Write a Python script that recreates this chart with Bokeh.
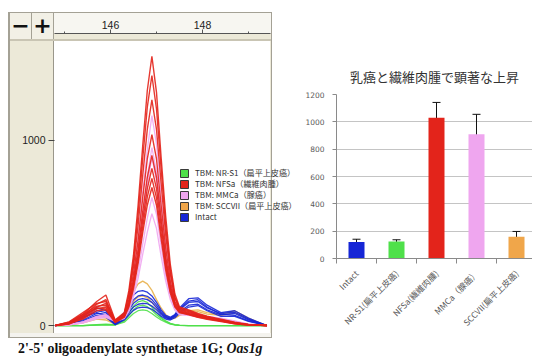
import math
from bokeh.plotting import figure
from bokeh.models import (Range1d, FixedTicker, Div, Whisker, ColumnDataSource, TeeHead)
from bokeh.layouts import row, column
from bokeh.embed import file_html
from bokeh.resources import INLINE

# ---------------- left chart data (chromatogram-like traces) ----------------
mz = [144.8, 145.1, 145.4, 145.7, 145.9, 146.1, 146.3, 146.4, 146.5, 146.6, 146.7, 146.8, 146.9,
      147.0, 147.1, 147.2, 147.3, 147.4, 147.5, 147.7, 147.9, 148.1, 148.4, 148.7, 149.0, 149.4]

nfsa_curves = [
    [0, 15, 60, 130, 165, 30, 70, 190, 380, 650, 970, 1270, 1454, 1260, 910, 590, 330, 170, 100, 85, 65, 50, 35, 18, 6, 0],
    [0, 10, 50, 115, 140, 25, 65, 170, 350, 600, 900, 1180, 1351, 1170, 850, 540, 300, 150, 95, 80, 60, 48, 30, 15, 5, 0],
    [0, 20, 70, 120, 130, 28, 60, 160, 320, 540, 810, 1060, 1220, 1060, 770, 490, 280, 150, 90, 75, 58, 45, 32, 16, 5, 0],
    [0, 12, 45, 100, 120, 20, 55, 140, 280, 460, 690, 900, 1032, 900, 650, 420, 240, 130, 85, 70, 55, 42, 28, 14, 4, 0],
    [0, 18, 60, 105, 110, 24, 52, 125, 250, 410, 615, 800, 919, 800, 580, 370, 215, 120, 80, 66, 52, 40, 26, 12, 4, 0],
    [0, 8, 40, 90, 100, 18, 48, 115, 230, 380, 570, 740, 849, 740, 540, 345, 200, 110, 75, 62, 50, 38, 25, 12, 4, 0],
    [0, 14, 55, 95, 90, 22, 50, 110, 215, 355, 530, 695, 795, 690, 500, 320, 185, 105, 72, 60, 46, 36, 24, 10, 3, 0],
    [0, 10, 35, 80, 85, 16, 45, 100, 200, 335, 500, 650, 746, 650, 470, 300, 175, 100, 70, 58, 45, 34, 22, 10, 3, 0],
]
mmca_curves = [
    [0, 5, 20, 50, 60, 30, 55, 125, 280, 470, 720, 950, 1135, 980, 700, 440, 250, 130, 80, 70, 60, 50, 40, 25, 8, 0],
    [0, 5, 18, 45, 55, 28, 50, 110, 240, 400, 610, 805, 962, 830, 595, 375, 215, 115, 72, 65, 55, 46, 36, 22, 7, 0],
    [0, 5, 18, 44, 52, 26, 48, 105, 228, 380, 578, 762, 908, 785, 562, 355, 205, 110, 70, 64, 54, 45, 35, 21, 7, 0],
    [0, 4, 15, 40, 48, 25, 42, 85, 175, 290, 440, 580, 692, 600, 430, 270, 160, 90, 62, 58, 50, 42, 34, 20, 6, 0],
    [0, 4, 14, 36, 44, 22, 38, 75, 155, 255, 385, 505, 605, 525, 375, 240, 140, 82, 58, 55, 48, 40, 32, 18, 5, 0],
]
sccvii_curves = [
    [0, 5, 20, 45, 40, 10, 60, 120, 185, 225, 240, 225, 190, 140, 95, 60, 40, 45, 60, 80, 85, 70, 60, 80, 40, 0],
    [0, 3, 15, 35, 30, 8, 45, 90, 130, 155, 160, 150, 125, 95, 65, 45, 35, 40, 55, 70, 75, 62, 55, 70, 35, 0],
]
nrs1_curves = [
    [0, 0, 0, 5, 8, 5, 30, 70, 105, 128, 135, 125, 100, 70, 45, 25, 12, 5, 2, 0, 0, 0, 0, 0, 0, 0],
    [0, 0, 0, 3, 5, 4, 25, 55, 85, 105, 110, 102, 82, 58, 38, 22, 10, 4, 1, 0, 0, 0, 0, 0, 0, 0],
    [0, 0, 0, 2, 4, 3, 18, 42, 65, 80, 85, 80, 65, 46, 30, 18, 8, 3, 1, 0, 0, 0, 0, 0, 0, 0],
]
intact_curves = [
    [0, 15, 50, 95, 80, 15, 70, 125, 165, 185, 189, 180, 160, 125, 85, 55, 45, 60, 95, 145, 150, 110, 70, 80, 40, 0],
    [0, 10, 40, 80, 70, 10, 55, 100, 140, 160, 165, 158, 140, 110, 75, 50, 40, 55, 85, 125, 130, 95, 65, 72, 35, 0],
    [0, 8, 30, 65, 60, 8, 45, 85, 120, 140, 145, 140, 125, 98, 68, 45, 35, 48, 75, 110, 115, 85, 58, 65, 30, 0],
    [0, 12, 45, 70, 55, 5, 35, 70, 100, 115, 120, 118, 105, 85, 60, 40, 38, 55, 90, 132, 140, 100, 60, 55, 25, 0],
    [0, 6, 25, 55, 45, 5, 30, 58, 82, 96, 100, 97, 88, 70, 50, 35, 30, 42, 68, 100, 108, 80, 50, 50, 22, 0],
]

left_y_ticks = [0, 1000]
left_x_major = [146, 148]
left_x_minor = [145, 147, 149]

legend_labels = ["TBM: NR-S1（扁平上皮癌）", "TBM: NFSa（繊維肉腫）", "TBM: MMCa（腺癌）",
                 "TBM: SCCVII（扁平上皮癌）", "Intact"]

# ---------------- right chart data (bar chart) ----------------
categories = ["Intact", "NR-S1(扁平上皮癌)", "NFSa(繊維肉腫)", "MMCa（腺癌）", "SCCVII(扁平上皮癌)"]
means = [120, 125, 1030, 910, 160]
errors = [21, 12, 112, 145, 38]
right_y_ticks = [0, 200, 400, 600, 800, 1000, 1200]

title_text = "乳癌と繊維肉腫で顕著な上昇"
caption_main = "2'-5' oligoadenylate synthetase 1G; "
caption_gene = "Oas1g"
button_texts = ["−", "+"]

# ---------------- styles ----------------
C_GREEN = "#4fe04a"
C_RED = "#e3241b"
C_PINK = "#efa6ef"
C_ORANGE = "#f0a64a"
C_BLUE = "#1626d6"
bar_colors = [C_BLUE, C_GREEN, C_RED, C_PINK, C_ORANGE]


def css_layers(rects):
    imgs, pos, sizes = [], [], []
    for (x, y, w, h, c) in reversed(rects):
        imgs.append(f"linear-gradient({c}, {c})")
        pos.append(f"{x}px {y}px")
        sizes.append(f"{w}px {h}px")
    return {"background-image": ", ".join(imgs),
            "background-position": ", ".join(pos),
            "background-size": ", ".join(sizes),
            "background-repeat": "no-repeat"}


panel_rects = [
    (8, 12, 264, 326, "#a4a195"),     # outer border
    (10, 13, 261, 324, "#ece9d8"),    # beige body
    (54, 13, 217, 20, "#f7f6f1"),     # ruler
    (10, 13, 21, 26, "#f2f0e6"),      # button -
    (32, 13, 21, 26, "#f2f0e6"),      # button +
    (31, 13, 1, 26, "#a4a195"),
    (53, 13, 1, 26, "#a4a195"),
    (10, 39, 261, 2, "#c9c5b4"),
    (53, 41, 1, 292, "#9a978b"),      # plot left edge
    (54, 41, 216, 292, "#ffffff"),    # plot area
    (10, 333, 261, 4, "#f4f3ee"),     # bottom strip
]

LW, LH = 300, 338
p = figure(width=LW, height=LH, output_backend="svg", toolbar_location=None, tools="",
           x_range=Range1d(144.783, 150.130), y_range=Range1d(-43, 1578),
           x_axis_location="above", min_border_left=54, min_border_right=0,
           min_border_top=33, min_border_bottom=5,
           background_fill_alpha=0, border_fill_color=None,
           outline_line_color=None, styles=css_layers(panel_rects))
p.margin = 0
p.grid.visible = False

for ys in nrs1_curves:
    p.line(mz, ys, line_color=C_GREEN, line_width=1.3, line_alpha=0.9)
for ys in sccvii_curves:
    p.line(mz, ys, line_color="#e8b04a", line_width=1.3, line_alpha=0.9)
for ys in intact_curves:
    p.line(mz, ys, line_color=C_BLUE, line_width=1.3, line_alpha=0.9)
for ys in mmca_curves:
    p.line(mz, ys, line_color=C_PINK, line_width=1.3, line_alpha=0.9)
for ys in nfsa_curves:
    p.line(mz, ys, line_color=C_RED, line_width=1.4, line_alpha=0.9)

nan = float("nan")
for lab, col in zip(legend_labels, [C_GREEN, C_RED, C_PINK, C_ORANGE, C_BLUE]):
    p.quad(left=[nan], right=[nan], top=[nan], bottom=[nan], fill_color=col,
           line_color="#3a3a3a", legend_label=lab)

lg = p.legend[0]
lg.location = (125, 111)
lg.background_fill_alpha = 0
lg.border_line_color = None
lg.padding = 0
lg.margin = 0
lg.spacing = 0
lg.glyph_width = 10
lg.glyph_height = 10
lg.label_height = 10
lg.label_standoff = 6
lg.label_text_font = "Noto Sans CJK JP"
lg.label_text_font_size = "8.1px"
lg.label_text_color = "#333333"

xa = p.xaxis[0]
xa.ticker = FixedTicker(ticks=left_x_major, minor_ticks=left_x_minor)
xa.bounds = (144.783, 149.478)
xa.axis_line_color = "#555555"
xa.major_tick_line_color = "#555555"
xa.minor_tick_line_color = "#555555"
xa.major_tick_out = 4
xa.major_tick_in = 0
xa.minor_tick_out = 2
xa.minor_tick_in = 0
xa.major_label_text_font = "Liberation Sans"
xa.major_label_text_font_size = "10.5px"
xa.major_label_text_color = "#222222"
xa.major_label_standoff = 1

ya = p.yaxis[0]
ya.ticker = FixedTicker(ticks=left_y_ticks)
ya.axis_line_color = None
ya.major_tick_line_color = "#444444"
ya.major_tick_out = 6
ya.major_tick_in = 0
ya.minor_tick_line_color = None
ya.major_label_text_font = "Liberation Sans"
ya.major_label_text_font_size = "10.5px"
ya.major_label_text_color = "#222222"
ya.major_label_standoff = 3

btn_style = ("position:absolute;top:-325px;width:21px;height:26px;line-height:26px;"
             "text-align:center;font-family:'DejaVu Sans';font-weight:bold;font-size:22px;color:#111;")
caption_html = (
    '<div style="position:relative;height:0;">'
    f'<span style="{btn_style}left:10px;">{button_texts[0]}</span>'
    f'<span style="{btn_style}left:32px;">{button_texts[1]}</span>'
    '</div>'
    f'<div style="padding:2px 0 0 18px;line-height:18px;font-family:\'Liberation Serif\';'
    f'font-size:13.8px;font-weight:bold;color:#111;white-space:nowrap;">'
    f'{caption_main}<i>{caption_gene}</i></div>'
)
caption = Div(text=caption_html, width=LW, height=20, margin=0,
              styles={"overflow": "visible"})

# ---------------- right chart ----------------
RW, RH = 232, 358
pos = [i + 0.5 for i in range(len(categories))]
src = ColumnDataSource(dict(x=pos, top=means, color=bar_colors,
                            upper=[m + e for m, e in zip(means, errors)],
                            lower=[m - e for m, e in zip(means, errors)]))

p2 = figure(width=RW, height=RH, output_backend="svg", toolbar_location=None, tools="",
            x_range=Range1d(0, 4.9), y_range=Range1d(0, 1200),
            min_border_left=36, min_border_right=0, min_border_top=94, min_border_bottom=100,
            background_fill_color="white", border_fill_color="white",
            outline_line_color=None, title=title_text)
p2.margin = 0
p2.title.text_font = "Noto Sans CJK JP"
p2.title.text_font_size = "13px"
p2.title.text_font_style = "normal"
p2.title.text_color = "#333333"
p2.title.align = "center"
p2.title.offset = -10
p2.title.standoff = 18

p2.vbar(x="x", top="top", width=0.4, fill_color="color", line_color=None, source=src)
p2.add_layout(Whisker(base="x", upper="upper", lower="lower", source=src,
                      line_color="#111111", line_width=1,
                      upper_head=TeeHead(size=8, line_color="#111111", line_width=1),
                      lower_head=TeeHead(size=8, line_color="#111111", line_width=1)))

p2.xgrid.visible = False
p2.ygrid.grid_line_color = "#c4c4c4"
p2.ygrid.ticker = FixedTicker(ticks=right_y_ticks)

ya2 = p2.yaxis[0]
ya2.ticker = FixedTicker(ticks=right_y_ticks)
ya2.axis_line_color = "#8a8a8a"
ya2.major_tick_line_color = "#8a8a8a"
ya2.major_tick_out = 4
ya2.major_tick_in = 0
ya2.minor_tick_line_color = None
ya2.major_label_text_font = "DejaVu Sans"
ya2.major_label_text_font_size = "7.5px"
ya2.major_label_text_color = "#595959"
ya2.major_label_standoff = 8

xa2 = p2.xaxis[0]
xa2.ticker = FixedTicker(ticks=pos, minor_ticks=list(range(len(categories))))
xa2.major_label_overrides = {x: c for x, c in zip(pos, categories)}
xa2.major_label_orientation = math.pi / 4
xa2.axis_line_color = "#8a8a8a"
xa2.major_tick_line_color = None
xa2.minor_tick_line_color = "#8a8a8a"
xa2.minor_tick_out = 5
xa2.minor_tick_in = 0
xa2.major_label_text_font = "Noto Sans CJK JP"
xa2.major_label_text_font_size = "8.5px"
xa2.major_label_text_color = "#595959"
xa2.major_label_standoff = 7

layout = row(column(p, caption, spacing=0), p2, spacing=0)

open("out.html", "w").write(file_html(layout, INLINE))
